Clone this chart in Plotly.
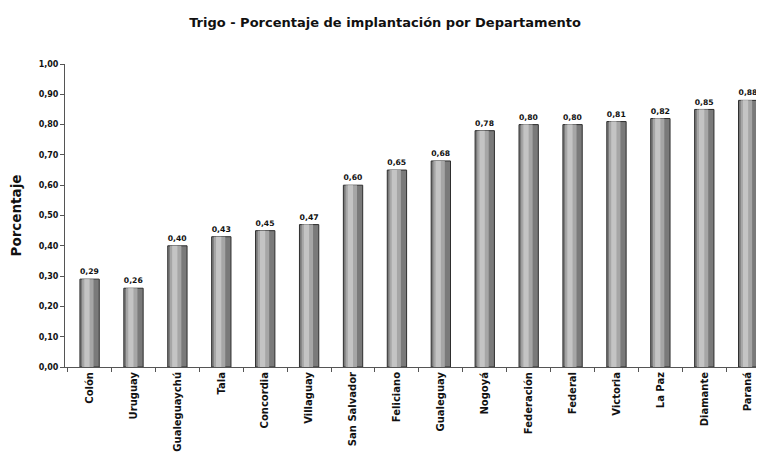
import plotly.graph_objects as go

departamentos = ["Colón", "Uruguay", "Gualeguaychú", "Tala", "Concordia", "Villaguay",
                 "San Salvador", "Feliciano", "Gualeguay", "Nogoyá", "Federación",
                 "Federal", "Victoria", "La Paz", "Diamante", "Paraná"]
porcentaje = [0.29, 0.26, 0.40, 0.43, 0.45, 0.47, 0.60, 0.65, 0.68, 0.78, 0.80,
              0.80, 0.81, 0.82, 0.85, 0.88]
y_ticks = [0.0, 0.1, 0.2, 0.3, 0.4, 0.5, 0.6, 0.7, 0.8, 0.9, 1.0]

font_main = "DejaVu Sans, Verdana, sans-serif"

fig = go.Figure()
# base bar (dark shaded cylinder)
fig.add_trace(go.Bar(
    x=departamentos, y=porcentaje, width=0.44,
    marker=dict(color="#7a7a7a", line=dict(color="#2e2e2e", width=1)),
    texttemplate="<b>%{y:.2f}</b>", textposition="outside",
    textfont=dict(size=8, color="#111111", family=font_main),
    cliponaxis=False, hoverinfo="skip", showlegend=False,
))
# lighter middle shading
fig.add_trace(go.Bar(
    x=departamentos, y=porcentaje, width=0.26, offset=-0.17,
    marker=dict(color="#a6a6a6", line=dict(width=0)),
    hoverinfo="skip", showlegend=False,
))
fig.add_trace(go.Bar(
    x=departamentos, y=porcentaje, width=0.12, offset=-0.12,
    marker=dict(color="#c4c4c4", line=dict(width=0)),
    hoverinfo="skip", showlegend=False,
))

fig.update_layout(
    width=756, height=444,
    barmode="overlay",
    separators=",.",
    plot_bgcolor="white", paper_bgcolor="white",
    margin=dict(l=57, r=0, t=56, b=85),
    title=dict(text="<b>Trigo - Porcentaje de implantación por Departamento</b>",
               x=(385 - 8) / 756, xanchor="center", y=1 - 14 / 444, yanchor="middle",
               font=dict(size=13, color="#111111", family=font_main)),
    font=dict(family=font_main, color="#111111"),
)
fig.update_xaxes(
    range=[-0.56, 15.36], tickangle=-90, tickson="boundaries",
    ticks="outside", ticklen=4, tickcolor="#555555",
    showline=True, linecolor="#555555", linewidth=1,
    tickfont=dict(size=10, family=font_main, color="#111111", weight="bold"),
    showgrid=False,
)
fig.update_yaxes(
    range=[0, 1.0], tickvals=y_ticks, tickformat=".2f",
    ticks="outside", ticklen=4, tickcolor="#555555",
    showline=True, linecolor="#555555", linewidth=1,
    tickfont=dict(size=8, family=font_main, color="#111111", weight="bold"),
    showgrid=False, zeroline=False,
    title=dict(text="<b>Porcentaje</b>", font=dict(size=13.5, family=font_main), standoff=13),
)

fig.write_html("out.html")
